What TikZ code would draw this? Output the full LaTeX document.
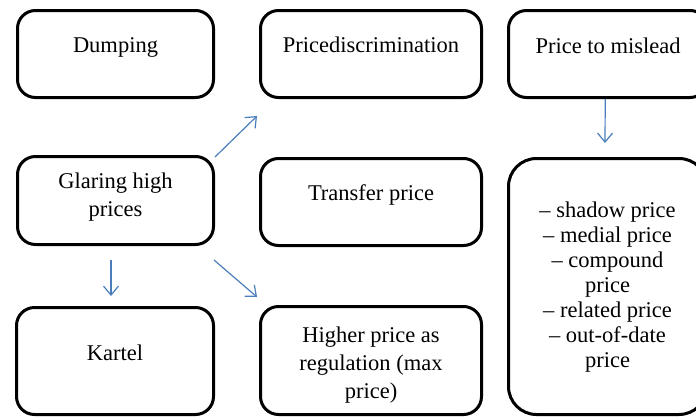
\documentclass[tikz,border=0pt]{standalone}
\usepackage{fontspec}
\setmainfont{Liberation Serif}
\usetikzlibrary{arrows.meta,calc}
\definecolor{arrblue}{RGB}{74,126,187}
\begin{document}
\begin{tikzpicture}[x=1pt,y=-1pt,
  box/.style={draw=black, line width=3pt, rounded corners=18pt, inner sep=0pt},
  bigbox/.style={box, rounded corners=28pt},
  txt/.style={font=\fontsize{22.5pt}{28pt}\selectfont, align=center, inner sep=0pt},
  bigtxt/.style={font=\fontsize{22.5pt}{25pt}\selectfont, align=center, inner sep=0pt},
  link/.style={draw=arrblue, line width=1.2pt, -{Straight Barb[length=9pt,width=15pt,line width=1.2pt]}}]
\useasboundingbox (0,0) rectangle (696,418);
% boxes
\node[box, minimum width=196pt, minimum height=87pt] (dump) at (115.5,54) {};
\node[box, minimum width=221pt, minimum height=87pt] (disc) at (371,54) {};
\node[box, minimum width=199.5pt, minimum height=87pt] (misl) at (608.25,54) {};
\node[box, minimum width=196pt, minimum height=88pt] (glare) at (115.5,200.5) {};
\node[box, minimum width=221pt, minimum height=87pt] (trans) at (371,202) {};
\node[bigbox, minimum width=198.5pt, minimum height=256pt] (big) at (607.75,286.5) {};
\node[box, minimum width=197pt, minimum height=107pt] (kart) at (115,361) {};
\node[box, minimum width=221pt, minimum height=108pt] (higher) at (371,360.5) {};
% texts
\node[txt, anchor=base] (dumpt) at (115.5,52) {Dumping};
\node[txt, anchor=base] (disct) at (371,52) {Pricediscrimination};
\node[txt, anchor=base] (mislt) at (608,53) {Price to mislead};
\node[txt, anchor=base] (glaret) at (115.5,216) {Glaring high\\prices};
\node[txt, anchor=base] (transt) at (371,200) {Transfer price};
\node[txt, anchor=base] (kartt) at (115,360) {Kartel};
\node[txt, anchor=base] (highert) at (371,398) {Higher price as\\regulation (max\\price)};
\node[bigtxt, anchor=base] (bigt) at (607.5,367) {-- shadow price\\-- medial price\\-- compound\\price\\-- related price\\-- out-of-date\\price};
% connectors
\draw[link] ($(glare.north east)+(0,2)$) -- ($(disc.south west)+(-2,17)$);
\draw[link] ($(misl.south)+(-3,0)$) -- ($(big.north)+(-2.75,-14)$);
\draw[link] ($(glare.south)+(-4.5,14)$) -- ($(kart.north)+(-4,-10)$);
\draw[link] ($(glare.south east)+(-1,14)$) -- ($(higher.north west)+(-2,-8)$);
\end{tikzpicture}
\end{document}
